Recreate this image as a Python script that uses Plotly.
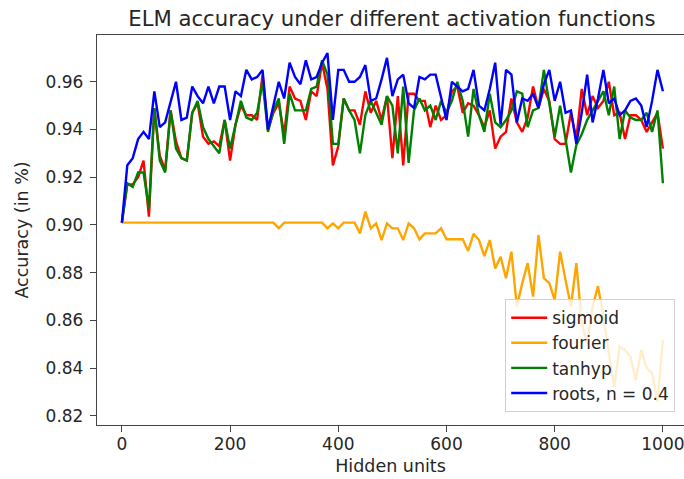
import plotly.graph_objects as go

hidden_units = list(range(0, 1001, 10))

sigmoid = [
    0.901, 0.917, 0.917, 0.920, 0.927, 0.9035, 0.949, 0.929, 0.923, 0.948,
    0.935, 0.928, 0.927, 0.947, 0.951, 0.937, 0.934, 0.935, 0.933, 0.944,
    0.927, 0.942, 0.950, 0.946, 0.946, 0.944, 0.963, 0.940, 0.947, 0.951,
    0.938, 0.958, 0.953, 0.952, 0.944, 0.956, 0.954, 0.968, 0.957, 0.925,
    0.933, 0.953, 0.948, 0.948, 0.942, 0.956, 0.947, 0.952, 0.944, 0.954,
    0.928, 0.954, 0.925, 0.955, 0.955, 0.952, 0.952, 0.941, 0.950, 0.944,
    0.946, 0.956, 0.958, 0.947, 0.951, 0.950, 0.946, 0.941, 0.948, 0.932,
    0.937, 0.939, 0.953, 0.943, 0.939, 0.945, 0.958, 0.949, 0.957, 0.952,
    0.936, 0.934, 0.934, 0.947, 0.936, 0.957, 0.946, 0.954, 0.949, 0.952,
    0.960, 0.946, 0.947, 0.936, 0.946, 0.946, 0.944, 0.939, 0.943, 0.947,
    0.932,
]

fourier = [
    0.901, 0.901, 0.901, 0.901, 0.901, 0.901, 0.901, 0.901, 0.901, 0.901,
    0.901, 0.901, 0.901, 0.901, 0.901, 0.901, 0.901, 0.901, 0.901, 0.901,
    0.901, 0.901, 0.901, 0.901, 0.901, 0.901, 0.901, 0.901, 0.901, 0.8986,
    0.901, 0.901, 0.901, 0.901, 0.901, 0.901, 0.901, 0.901, 0.8986, 0.9007,
    0.8986, 0.901, 0.901, 0.901, 0.8965, 0.9056, 0.8986, 0.9007, 0.8937, 0.9007,
    0.8986, 0.8986, 0.8937, 0.9007, 0.8986, 0.894, 0.8965, 0.8965, 0.8965, 0.8986,
    0.894, 0.894, 0.894, 0.894, 0.8891, 0.8963, 0.8937, 0.887, 0.8937, 0.8818,
    0.8867, 0.8777, 0.8888, 0.8658, 0.8756, 0.884, 0.870, 0.8958, 0.8777, 0.8756,
    0.8686, 0.8888, 0.877, 0.8658, 0.884, 0.8588, 0.8504, 0.8658, 0.8744, 0.8616,
    0.8462, 0.8322, 0.849, 0.8476, 0.8448, 0.835, 0.8476, 0.840, 0.8379, 0.826,
    0.8518,
]

tanhyp = [
    0.901, 0.9175, 0.916, 0.922, 0.922, 0.907, 0.949, 0.927, 0.922, 0.948,
    0.932, 0.928, 0.927, 0.947, 0.952, 0.941, 0.936, 0.933, 0.930, 0.944,
    0.932, 0.942, 0.952, 0.945, 0.944, 0.947, 0.960, 0.939, 0.948, 0.953,
    0.934, 0.955, 0.948, 0.948, 0.948, 0.957, 0.958, 0.969, 0.963, 0.934,
    0.934, 0.953, 0.948, 0.944, 0.930, 0.946, 0.952, 0.947, 0.942, 0.954,
    0.950, 0.930, 0.958, 0.926, 0.948, 0.953, 0.948, 0.950, 0.944, 0.952,
    0.947, 0.952, 0.960, 0.952, 0.937, 0.957, 0.946, 0.939, 0.955, 0.943,
    0.941, 0.944, 0.948, 0.956, 0.955, 0.941, 0.948, 0.949, 0.965, 0.951,
    0.937, 0.950, 0.935, 0.922, 0.9335, 0.938, 0.944, 0.948, 0.952, 0.956,
    0.946, 0.958, 0.936, 0.948, 0.945, 0.944, 0.944, 0.947, 0.939, 0.948,
    0.9175,
]

roots = [
    0.901, 0.925, 0.928, 0.936, 0.939, 0.936, 0.956, 0.941, 0.943, 0.952,
    0.960, 0.944, 0.945, 0.958, 0.954, 0.951, 0.958, 0.951, 0.958, 0.958,
    0.944, 0.956, 0.954, 0.965, 0.961, 0.962, 0.965, 0.940, 0.950, 0.960,
    0.953, 0.968, 0.962, 0.959, 0.969, 0.961, 0.962, 0.968, 0.972, 0.944,
    0.965, 0.965, 0.960, 0.960, 0.962, 0.967, 0.952, 0.953, 0.961, 0.970,
    0.954, 0.961, 0.963, 0.951, 0.949, 0.962, 0.961, 0.963, 0.963, 0.954,
    0.944, 0.960, 0.958, 0.956, 0.957, 0.965, 0.950, 0.948, 0.957, 0.968,
    0.942, 0.965, 0.963, 0.943, 0.953, 0.952, 0.955, 0.949, 0.959, 0.965,
    0.952, 0.960, 0.947, 0.948, 0.934, 0.947, 0.963, 0.943, 0.953, 0.965,
    0.951, 0.953, 0.946, 0.948, 0.952, 0.953, 0.950, 0.941, 0.952, 0.965,
    0.956,
]

series_names = ["sigmoid", "fourier", "tanhyp", "roots, n = 0.4"]
series_values = [sigmoid, fourier, tanhyp, roots]
series_colors = ["#ff0000", "#ffa500", "#008000", "#0000ff"]

x_ticks = [0, 200, 400, 600, 800, 1000]
y_ticks = [0.82, 0.84, 0.86, 0.88, 0.90, 0.92, 0.94, 0.96]

FONT = "DejaVu Sans"
TXT = "#262626"
SPINE = "#444444"

fig = go.Figure()
for name, vals, col in zip(series_names, series_values, series_colors):
    fig.add_trace(go.Scatter(
        x=hidden_units, y=vals, mode="lines", name=name, legendgroup=name,
        line=dict(color=col, width=2.4),
    ))

fig.update_layout(
    width=684, height=479,
    paper_bgcolor="white", plot_bgcolor="white",
    margin=dict(l=97, r=0, t=35, b=54, autoexpand=False),
    font=dict(family=FONT, size=17, color=TXT),
    title=dict(text="ELM accuracy under different activation functions",
               xref="container", x=0.573, xanchor="center",
               yref="container", y=0.9605, yanchor="middle",
               font=dict(family=FONT, size=21.2, color=TXT)),
    showlegend=True,
    legend=dict(x=0.985, xanchor="right", y=0.033, yanchor="bottom",
                bgcolor="rgba(255,255,255,0.8)", bordercolor="#d0d0d0", borderwidth=1,
                font=dict(family=FONT, size=17, color=TXT),
                itemwidth=36, tracegroupgap=5, traceorder="normal"),
    xaxis=dict(range=[-46, 1039], tickvals=x_ticks, showgrid=False, zeroline=False,
               automargin=False, ticklabeloverflow="allow",
               showline=True, linecolor=SPINE, linewidth=1.3, mirror=True,
               ticks="outside", ticklen=6, tickcolor=SPINE, tickwidth=1.3,
               ticklabelstandoff=-3,
               title=dict(text="Hidden units", standoff=7, font=dict(size=17.5)),
               tickfont=dict(size=17)),
    yaxis=dict(range=[0.8162, 0.9796], tickvals=y_ticks, tickformat=".2f",
               automargin=False, ticklabeloverflow="allow",
               showgrid=False, zeroline=False,
               showline=True, linecolor=SPINE, linewidth=1.3, mirror=False,
               ticks="outside", ticklen=6, tickcolor=SPINE, tickwidth=1.3,
               ticklabelstandoff=3,
               title=dict(text="Accuracy (in %)", standoff=12, font=dict(size=17.5)),
               tickfont=dict(size=17)),
)

# Remove the browser's default 8px body margin so the figure fills the window.
fig.write_html("out.html",
               config={"displayModeBar": False},
               post_script="document.body.style.margin='0';document.body.style.overflow='hidden';")
